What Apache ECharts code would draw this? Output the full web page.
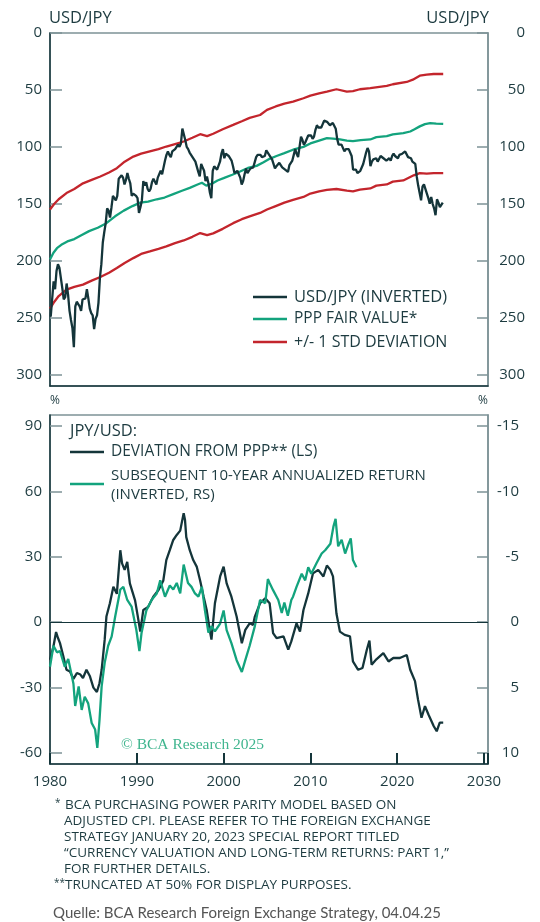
<!DOCTYPE html>
<html>
<head>
<meta charset="utf-8">
<title>USD/JPY vs PPP</title>
<script src="https://cdn.jsdelivr.net/npm/echarts@6/dist/echarts.min.js"></script>
<style>
  html, body { margin: 0; padding: 0; background: #fff; }
  #chart { width: 540px; height: 922px; }
</style>
</head>
<body>
<div id="chart"></div>
<script>
// ---- data ----
// USD/JPY, one row per year, bi-monthly points
const usdJpyFirstYear = 1980;
const usdJpy = [
  [249, 250, 218, 225, 209, 203],
  [206, 215, 224, 234, 232, 220],
  [230, 244, 252, 259, 276, 240],
  [236, 238, 240, 244, 234, 234],
  [233, 225, 233, 242, 246, 248],
  [260, 251, 248, 237, 215, 203],
  [184, 175, 167, 154, 156, 162],
  [153, 143, 144, 147, 143, 128],
  [129, 125, 127, 133, 129, 123],
  [128, 132, 143, 141, 142, 143],
  [145, 158, 153, 147, 130, 134],
  [131, 137, 139, 137, 131, 128],
  [128, 133, 127, 126, 121, 124],
  [118, 112, 107, 104, 107, 109],
  [104, 103, 102, 100, 98, 100],
  [97, 84, 85, 94, 100, 102],
  [105, 107, 109, 108, 113, 114],
  [122, 126, 115, 118, 121, 130],
  [126, 132, 140, 145, 121, 117],
  [116, 120, 120, 113, 106, 102],
  [110, 106, 106, 108, 109, 112],
  [117, 123, 122, 121, 122, 127],
  [133, 130, 124, 119, 123, 122],
  [119, 119, 118, 118, 109, 107],
  [107, 107, 109, 110, 108, 103],
  [105, 107, 108, 111, 115, 119],
  [117, 117, 114, 116, 118, 117],
  [120, 119, 122, 116, 116, 112],
  [107, 102, 106, 109, 100, 91],
  [94, 98, 96, 95, 90, 90],
  [90, 93, 91, 85, 81, 83],
  [82, 83, 80, 77, 77, 78],
  [79, 81, 80, 79, 79, 84],
  [93, 98, 97, 98, 98, 104],
  [102, 102, 102, 103, 108, 120],
  [119, 120, 123, 124, 121, 121],
  [115, 110, 105, 101, 104, 117],
  [113, 111, 111, 110, 113, 113],
  [108, 108, 110, 111, 112, 112],
  [110, 112, 108, 106, 108, 109],
  [110, 107, 108, 106, 105, 104],
  [105, 109, 110, 110, 113, 114],
  [115, 126, 134, 135, 147, 135],
  [133, 133, 141, 145, 150, 144],
  [150, 154, 160, 146, 149, 153],
  [152, 149]
];

const pppFairValue = [
  [1980.0, 199], [1980.4, 193], [1980.8, 189], [1981.3, 186], [1982.0, 183], [1982.8, 181],
  [1983.5, 178], [1984.5, 174], [1985.5, 171], [1986.5, 167], [1987.5, 161], [1988.5, 156],
  [1989.5, 152], [1990.4, 149], [1991.3, 148], [1992.3, 146], [1993.2, 144.5], [1994.2, 141.5],
  [1995.2, 138.5], [1996.1, 136], [1997.0, 133], [1997.5, 131.5], [1998.0, 134], [1998.6, 132.5],
  [1999.3, 129.5], [2000.0, 127.5], [2001.0, 124.5], [2001.9, 121.6], [2002.8, 118.5], [2003.8, 116.7],
  [2004.6, 113.5], [2005.3, 110.5], [2006.1, 108], [2007.0, 105.5], [2008.0, 102.5], [2009.2, 100],
  [2010.0, 97], [2011.0, 94.5], [2011.9, 92.4], [2012.6, 92.8], [2013.4, 93.5], [2014.2, 94.5],
  [2014.9, 95], [2015.8, 94], [2016.9, 93.5], [2017.6, 91.5], [2018.8, 90.5], [2019.5, 89],
  [2020.7, 88], [2021.5, 86.5], [2022.0, 84.5], [2022.6, 82], [2023.2, 80], [2023.8, 79.2],
  [2024.5, 79.5], [2025.3, 79.8]
];

const upperBand = [
  [1980.0, 155], [1980.5, 150], [1981.0, 146], [1981.9, 140.6], [1982.8, 137], [1983.8, 132],
  [1984.8, 129], [1985.8, 126], [1986.8, 122.5], [1987.7, 118.7], [1988.6, 113], [1989.6, 108.5],
  [1990.5, 106], [1991.5, 104], [1992.5, 102], [1993.4, 99.7], [1994.4, 97.5], [1995.4, 95.3],
  [1996.4, 92], [1997.3, 88.9], [1998.1, 90.5], [1998.8, 88.5], [1999.9, 84.5], [2001.1, 80.7],
  [2002.1, 77.5], [2003.0, 74.5], [2004.2, 72], [2005.0, 67.5], [2006.0, 64.5], [2007.0, 62],
  [2008.0, 60.2], [2009.2, 57.3], [2010.0, 55], [2011.0, 53], [2011.9, 51.5], [2013.0, 49.4],
  [2014.2, 51.5], [2014.9, 51], [2015.7, 49.4], [2016.9, 48.5], [2018.8, 46.5], [2019.5, 45],
  [2021.1, 43], [2021.8, 41], [2022.6, 37.5], [2023.4, 36.5], [2024.2, 36], [2025.3, 36]
];

const lowerBand = [
  [1980.0, 242], [1980.5, 236], [1981.0, 231], [1981.9, 225.4], [1982.8, 223], [1983.8, 221],
  [1984.8, 217.5], [1985.8, 214.3], [1986.8, 210.5], [1987.7, 206.4], [1988.6, 202], [1989.6, 197.7],
  [1990.5, 194], [1991.5, 191.8], [1992.5, 189.5], [1993.4, 187.4], [1994.4, 184.5], [1995.4, 182.2],
  [1996.4, 179], [1997.3, 175.7], [1998.1, 177.5], [1998.8, 176], [1999.9, 172], [2001.1, 167],
  [2002.1, 163.5], [2003.0, 161], [2004.2, 158], [2005.0, 155], [2006.0, 152], [2007.0, 149],
  [2008.0, 146.5], [2009.2, 144], [2010.0, 141], [2011.0, 139], [2011.9, 137.7], [2013.0, 137],
  [2014.2, 138.5], [2014.9, 139], [2015.7, 137.5], [2016.9, 136.5], [2017.6, 134], [2018.8, 133],
  [2019.5, 130.5], [2020.7, 129.5], [2021.9, 125], [2022.6, 123], [2023.4, 123.5], [2024.2, 123],
  [2025.3, 123]
];

// JPY/USD deviation from PPP, % (left scale)
const deviation = [
  [1980.0, -17.2], [1980.4, -11], [1980.7, -4.5], [1980.9, -7], [1981.15, -9.6], [1981.5, -15],
  [1981.9, -21.8], [1982.3, -22.6], [1982.7, -26], [1983.1, -23.3], [1983.5, -24], [1983.8, -25.6],
  [1984.2, -21.8], [1984.6, -24.8], [1985.0, -30], [1985.4, -32], [1985.7, -28], [1985.95, -21.8],
  [1986.3, -8], [1986.5, 2.6], [1986.9, 8.7], [1987.3, 16.3], [1987.7, 13], [1988.1, 33],
  [1988.3, 27], [1988.6, 24], [1988.9, 27.7], [1989.2, 17.8], [1989.8, 10], [1990.1, 3],
  [1990.4, -4.3], [1990.75, 5.6], [1991.3, 7], [1991.9, 11.7], [1992.5, 14.8], [1993.05, 19],
  [1993.4, 28.5], [1993.8, 33], [1994.2, 37.7], [1994.6, 40], [1995.0, 42], [1995.2, 46],
  [1995.4, 50], [1995.55, 47], [1995.7, 39], [1996.1, 33], [1996.5, 28.5], [1996.9, 25.5],
  [1997.3, 19], [1997.7, 11.7], [1998.05, 5.6], [1998.4, -3.5], [1998.6, -8], [1999.0, 8.7],
  [1999.6, 21], [2000.0, 25.5], [2000.35, 17.8], [2000.9, 11.7], [2001.5, 2.6], [2002.1, -9.6],
  [2002.5, -3.5], [2003.0, -0.5], [2003.4, -1.2], [2003.6, 2.6], [2004.2, 8.7], [2004.8, 11],
  [2005.3, 8.7], [2005.7, -5], [2006.1, -7.3], [2006.9, -6.5], [2007.45, -12.6], [2007.8, -8.8],
  [2008.4, -0.5], [2008.8, -4.3], [2009.2, 5.6], [2009.75, 13.2], [2010.3, 22.4], [2010.9, 24],
  [2011.5, 21], [2011.9, 26], [2012.3, 24], [2012.6, 21], [2013.0, 4], [2013.4, -4.3],
  [2013.95, -5.8], [2014.56, -6.5], [2014.9, -18], [2015.5, -21.8], [2016.0, -21], [2016.5, -12.6],
  [2016.8, -8.4], [2017.05, -19.5], [2017.6, -17], [2018.4, -14.2], [2019.0, -18], [2019.55, -16.4],
  [2020.3, -16.4], [2021.1, -15], [2021.5, -21.8], [2022.05, -27], [2022.4, -35.5], [2022.8, -43.8],
  [2023.2, -38.5], [2023.6, -42.3], [2024.2, -47.6], [2024.55, -50], [2024.9, -46], [2025.3, -46]
];

// subsequent 10-year annualized return, % (right scale, inverted)
const tenYearReturn = [
  [1980.0, 3.4], [1980.4, 1.8], [1980.8, 2.3], [1981.15, 2.2], [1981.7, 3.4], [1982.1, 2.8],
  [1982.7, 4.7], [1982.9, 6.4], [1983.3, 4.9], [1983.65, 6.7], [1984.0, 5.7], [1984.4, 6.2],
  [1984.8, 7.7], [1985.2, 8.2], [1985.45, 9.6], [1985.7, 7.5], [1985.95, 4.9], [1986.3, 3.1],
  [1986.7, 1.8], [1987.1, 1.1], [1987.5, -0.4], [1988.1, -2.5], [1988.45, -2.7], [1988.9, -1.7],
  [1989.4, -1.2], [1989.95, 0.6], [1990.3, 2.2], [1990.55, 0.8], [1991.1, -0.9], [1991.7, -1.7],
  [1992.3, -2.2], [1992.7, -3.2], [1993.25, -1.95], [1993.8, -2.8], [1994.2, -2.5], [1994.6, -3.0],
  [1995.0, -2.2], [1995.4, -4.4], [1995.9, -3.0], [1996.3, -2.7], [1996.7, -2.2], [1997.1, -1.95],
  [1997.5, -2.7], [1997.85, -0.9], [1998.25, 0.8], [1998.6, 0.3], [1999.0, 0.7], [1999.6, 0.1],
  [2000.0, -0.9], [2000.35, 0.6], [2000.9, 1.6], [2001.5, 2.9], [2002.1, 3.8], [2002.5, 2.9],
  [2003.0, 1.8], [2003.6, 0.3], [2004.2, -1.7], [2004.8, -1.45], [2005.1, -3.3], [2005.3, -3.0],
  [2005.7, -2.45], [2006.3, -1.7], [2006.7, -0.7], [2007.0, -1.5], [2007.4, -0.5], [2007.8, -1.7],
  [2008.0, -1.95], [2008.4, -2.7], [2009.0, -3.7], [2009.4, -3.2], [2009.75, -4.2], [2010.1, -3.7],
  [2010.7, -4.5], [2011.3, -5.25], [2011.7, -5.5], [2012.3, -6.0], [2012.65, -7.3], [2012.9, -7.9],
  [2013.2, -5.8], [2013.6, -6.3], [2014.0, -5.25], [2014.4, -6.0], [2014.65, -6.4], [2014.9, -4.75],
  [2015.3, -4.2]
];

const yearTicks = [1980, 1990, 2000, 2010, 2020, 2030];
const usdJpyTicks = [0, 50, 100, 150, 200, 250, 300];
const deviationTicks = [-60, -30, 0, 30, 60, 90];
const returnTicks = [-15, -10, -5, 0, 5, 10];

// turn the yearly rows into [year, value] points
const usdJpyPoints = [];
usdJpy.forEach(function (row, i) {
  row.forEach(function (v, k) {
    usdJpyPoints.push([usdJpyFirstYear + i + k / 6 + 1 / 12, v]);
  });
});

// ---- styles ----
const textColor = '#1d3b40';
const darkLine = '#14353a';
const greenLine = '#13a37d';
const redLine = '#c3252c';
const frameGray = '#7d9296';
const font = '"Open Sans", Lato, sans-serif';

const xMax = 2030.46;

function yLeft(grid, ticks, min, max, inverse) {
  return {
    type: 'value', gridIndex: grid, position: 'left', min: min, max: max, inverse: inverse,
    axisLine: { show: true, onZero: false, lineStyle: { color: darkLine, width: 1.5 } },
    axisTick: { show: true, inside: true, length: 12, customValues: ticks, lineStyle: { color: frameGray, width: 1.5 } },
    axisLabel: { customValues: ticks, margin: 8, color: textColor, fontSize: 15, fontFamily: font },
    splitLine: { show: false }
  };
}
function yRight(grid, ticks, min, max, inverse, margin) {
  return {
    type: 'value', gridIndex: grid, position: 'right', min: min, max: max, inverse: inverse,
    axisLine: { show: true, onZero: false, lineStyle: { color: frameGray, width: 1.5 } },
    axisTick: { show: true, inside: true, length: 11, customValues: ticks, lineStyle: { color: frameGray, width: 1.5 } },
    axisLabel: { customValues: ticks, margin: margin, align: 'right', color: textColor, fontSize: 15, fontFamily: font },
    splitLine: { show: false }
  };
}
function lineSeries(name, data, color, x, y, z) {
  return {
    name: name, type: 'line', data: data, xAxisIndex: x, yAxisIndex: y, z: z,
    showSymbol: false, symbol: 'none', smooth: false, silent: true,
    lineStyle: { color: color, width: 2.3 }
  };
}
function txt(str, x, y, opts) {
  opts = opts || {};
  return {
    type: 'text', x: x, y: y, silent: true, z: 10,
    style: {
      text: str, fill: opts.fill || textColor, align: opts.align || 'left', verticalAlign: 'middle',
      font: (opts.weight || 'normal') + ' ' + (opts.size || 15) + 'px ' + (opts.family || font)
    }
  };
}
function legendLine(x, y, color) {
  return { type: 'line', silent: true, shape: { x1: x, y1: y, x2: x + 34, y2: y }, style: { stroke: color, lineWidth: 2.5 } };
}

const chart = echarts.init(document.getElementById('chart'), null, { renderer: 'canvas' });

const deviationSeries = lineSeries('DEVIATION FROM PPP', deviation, darkLine, 1, 2, 3);
deviationSeries.markLine = {
  silent: true, symbol: 'none', label: { show: false },
  lineStyle: { color: darkLine, width: 1.2, type: 'solid' },
  data: [{ yAxis: 0 }]
};

const legendSize = 15.5;
const noteSize = 13.5;

chart.setOption({
  animation: false,
  backgroundColor: '#fff',
  grid: [
    { left: 50, top: 33, width: 438, height: 353, show: true, borderColor: frameGray, borderWidth: 1.5 },
    { left: 50, top: 415, width: 438, height: 349, show: true, borderColor: frameGray, borderWidth: 1.5 }
  ],
  xAxis: [
    {
      type: 'value', gridIndex: 0, min: 1980, max: xMax,
      axisLine: { show: true, onZero: false, lineStyle: { color: darkLine, width: 1.5 } },
      axisTick: { show: false }, axisLabel: { show: false }, splitLine: { show: false }
    },
    {
      type: 'value', gridIndex: 1, min: 1980, max: xMax, interval: 10,
      axisLine: { show: true, onZero: false, lineStyle: { color: darkLine, width: 1.5 } },
      // decade ticks, standing on the axis and pointing up into the plot
      axisTick: { show: true, inside: true, length: 11, lineStyle: { color: darkLine, width: 2 } },
      axisLabel: {
        customValues: yearTicks, margin: 10, color: textColor, fontSize: 15, fontFamily: font,
        formatter: function (v) { return String(v); }
      },
      splitLine: { show: false }
    }
  ],
  yAxis: [
    yLeft(0, usdJpyTicks, 0, 310, true),
    yRight(0, usdJpyTicks, 0, 310, true, 37),
    yLeft(1, deviationTicks, -65, 95, false),
    yRight(1, returnTicks, -15.8333, 10.8333, true, 31)
  ],
  series: [
    lineSeries('+/- 1 STD DEVIATION', upperBand, redLine, 0, 0, 2),
    lineSeries('+/- 1 STD DEVIATION (LOWER)', lowerBand, redLine, 0, 0, 2),
    lineSeries('PPP FAIR VALUE', pppFairValue, greenLine, 0, 0, 3),
    lineSeries('USD/JPY (INVERTED)', usdJpyPoints, darkLine, 0, 0, 4),
    deviationSeries,
    lineSeries('SUBSEQUENT 10-YEAR ANNUALIZED RETURN', tenYearReturn, greenLine, 1, 3, 4)
  ],
  graphic: [
    // axis titles
    txt('USD/JPY', 49, 18, { size: 16.5 }),
    txt('USD/JPY', 489, 18, { size: 16.5, align: 'right' }),
    txt('%', 50, 401, { size: 12 }),
    txt('%', 488, 401, { size: 12, align: 'right' }),
    // top legend
    legendLine(253, 297, darkLine),
    txt('USD/JPY (INVERTED)', 294, 297, { size: 16.5 }),
    legendLine(253, 319, greenLine),
    txt('PPP FAIR VALUE*', 294, 319, { size: legendSize }),
    legendLine(253, 342, redLine),
    txt('+/- 1 STD DEVIATION', 294, 342, { size: 16 }),
    // bottom legend
    txt('JPY/USD:', 70, 431, { size: 16.5 }),
    legendLine(70, 452, darkLine),
    txt('DEVIATION FROM PPP** (LS)', 111, 452, { size: legendSize }),
    legendLine(70, 484, greenLine),
    txt('SUBSEQUENT 10-YEAR ANNUALIZED RETURN', 111, 476, { size: 15 }),
    txt('(INVERTED, RS)', 111, 495, { size: 15 }),
    // watermark
    txt('\u00A9 BCA Research 2025', 121, 745, { fill: '#3fb58e', size: 15.5, family: '"Liberation Serif", "DejaVu Serif", serif' }),
    // footnotes
    txt('*', 55, 803, { size: 10 }),
    txt('BCA PURCHASING POWER PARITY MODEL BASED ON', 65, 805, { size: noteSize }),
    txt('ADJUSTED CPI. PLEASE REFER TO THE FOREIGN EXCHANGE', 64, 821, { size: noteSize }),
    txt('STRATEGY JANUARY 20, 2023 SPECIAL REPORT TITLED', 64, 837, { size: noteSize }),
    txt('\u201CCURRENCY VALUATION AND LONG-TERM RETURNS: PART 1,\u201D', 64, 853, { size: noteSize }),
    txt('FOR FURTHER DETAILS.', 64, 869, { size: noteSize }),
    txt('**', 54, 883, { size: 10 }),
    txt('TRUNCATED AT 50% FOR DISPLAY PURPOSES.', 65, 885, { size: noteSize }),
    // source
    txt('Quelle: BCA Research Foreign Exchange Strategy, 04.04.25', 53, 913, { fill: '#555', size: 15, family: 'Lato, sans-serif' })
  ]
});
</script>
</body>
</html>
